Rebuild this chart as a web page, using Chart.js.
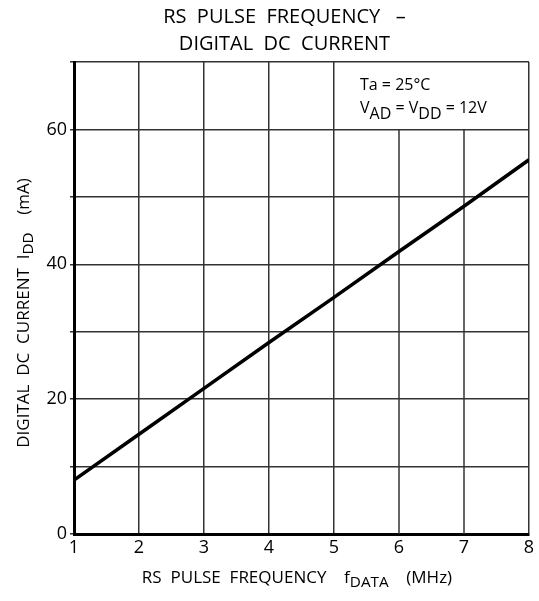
<!DOCTYPE html>
<html>
<head>
<meta charset="utf-8">
<script src="https://cdn.jsdelivr.net/npm/chart.js@4/dist/chart.umd.min.js"></script>
<style>
  html, body { margin: 0; padding: 0; background: #fff; }
  #wrap { width: 539px; height: 601px; }
</style>
</head>
<body>
<div id="wrap"><canvas id="chart"></canvas></div>
<script>
// data
var freqMHz = [1, 2, 3, 4, 5, 6, 7, 8];
var currentMA = [8, 14.8, 21.6, 28.4, 35.1, 41.9, 48.6, 55.5];
var xTicks = [1, 2, 3, 4, 5, 6, 7, 8];
var yTicks = [0, 20, 40, 60];
// grid lines that stop under the note box (x = 6, 7 only run up to y = 60)
var shortGridX = [6, 7];
var boxBottom = 60;

var FONT = "'Open Sans', 'DejaVu Sans', sans-serif";
var GRID = "#333";

// draws text with a subscript part: [[text, isSub], ...]
function subText(ctx, parts, x, y, size) {
    var w = 0;
    parts.forEach(function (p) {
        ctx.font = (p[1] ? size * 0.9 : size) + "px " + FONT;
        w += ctx.measureText(p[0]).width;
    });
    var cx = x - w / 2;
    parts.forEach(function (p) {
        ctx.font = (p[1] ? size * 0.9 : size) + "px " + FONT;
        ctx.fillText(p[0], cx, y + (p[1] ? size * 0.3 : 0));
        cx += ctx.measureText(p[0]).width;
    });
}

var extras = {
    id: "extras",
    beforeDatasetsDraw: function (chart) {
        var ctx = chart.ctx, xs = chart.scales.x, ys = chart.scales.y;
        ctx.save();
        ctx.strokeStyle = GRID;
        ctx.lineWidth = 1.5;
        shortGridX.forEach(function (v) {
            var px = xs.getPixelForValue(v);
            ctx.beginPath();
            ctx.moveTo(px, ys.getPixelForValue(0));
            ctx.lineTo(px, ys.getPixelForValue(boxBottom));
            ctx.stroke();
        });
        ctx.restore();
    },
    afterDraw: function (chart) {
        var ctx = chart.ctx, xs = chart.scales.x, ys = chart.scales.y;
        var x0 = xs.getPixelForValue(5);
        var y0 = ys.getPixelForValue(70);
        ctx.save();
        ctx.fillStyle = "#000";
        ctx.textBaseline = "middle";
        ctx.textAlign = "left";
        ctx.font = "16px " + FONT;
        ctx.fillText("Ta = 25\u00B0C", x0 + 26, y0 + 23);
        var parts = [["V", false], ["AD", true], [" = V", false], ["DD", true], [" = 12V", false]];
        var cx = x0 + 26;
        parts.forEach(function (p) {
            ctx.font = "16px " + FONT;
            ctx.fillText(p[0], cx, y0 + 48 + (p[1] ? 4 : -2));
            cx += ctx.measureText(p[0]).width;
        });

        subText(ctx, [["RS  PULSE  FREQUENCY    f", false], ["DATA", true], ["    (MHz)", false]], 297, 578, 17);
        ctx.translate(24, 313);
        ctx.rotate(-Math.PI / 2);
        subText(ctx, [["DIGITAL  DC  CURRENT  I", false], ["DD", true], ["    (mA)", false]], 0, 0, 17);
        ctx.restore();
    }
};

new Chart(document.getElementById("chart"), {
    type: "line",
    data: {
        datasets: [{
            data: freqMHz.map(function (f, i) { return { x: f, y: currentMA[i] }; }),
            borderColor: "#000",
            borderWidth: 3.5,
            pointRadius: 0,
            tension: 0
        }]
    },
    options: {
        responsive: true,
        maintainAspectRatio: false,
        animation: false,
        layout: { padding: { left: 40, right: 10, top: 0, bottom: 33 } },
        plugins: {
            legend: { display: false },
            tooltip: { enabled: false },
            title: {
                display: true,
                text: ["RS  PULSE  FREQUENCY   \u2013", "DIGITAL  DC  CURRENT"],
                color: "#000",
                font: { family: FONT, size: 20, weight: "normal", lineHeight: 1.35 },
                padding: { top: 4, bottom: 4 }
            }
        },
        scales: {
            x: {
                type: "linear",
                min: 1, max: 8,
                afterBuildTicks: function (s) { s.ticks = xTicks.map(function (v) { return { value: v }; }); },
                afterFit: function (s) { s.height = 34; },
                grid: {
                    color: function (c) {
                        return c.tick && shortGridX.indexOf(c.tick.value) >= 0 ? "rgba(0,0,0,0)" : GRID;
                    },
                    lineWidth: 1.5,
                    drawTicks: false
                },
                border: { color: "#000", width: 3 },
                ticks: { color: "#000", padding: 3, font: { family: FONT, size: 18 } }
            },
            y: {
                min: 0, max: 70,
                ticks: {
                    stepSize: 10,
                    color: "#000",
                    padding: 3,
                    font: { family: FONT, size: 18 },
                    callback: function (v) { return yTicks.indexOf(v) >= 0 ? String(v) : ""; }
                },
                afterFit: function (s) { s.width = 34; },
                grid: { color: GRID, lineWidth: 1.5, tickLength: 4 },
                border: { color: "#000", width: 3 }
            }
        }
    },
    plugins: [extras]
});
</script>
</body>
</html>
